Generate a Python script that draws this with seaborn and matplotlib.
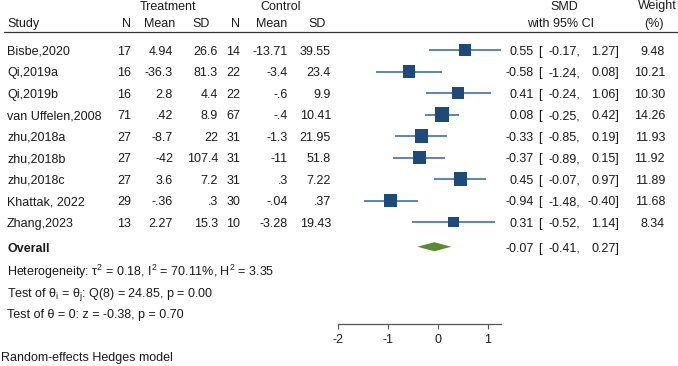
import matplotlib
matplotlib.use("Agg")
import matplotlib.pyplot as plt
import matplotlib.transforms as mtransforms
import seaborn as sns
import pandas as pd
import numpy as np

# ---------------- data ----------------
studies = ["Bisbe,2020", "Qi,2019a", "Qi,2019b", "van Uffelen,2008", "zhu,2018a",
           "zhu,2018b", "zhu,2018c", "Khattak, 2022", "Zhang,2023"]
trt_n = ["17", "16", "16", "71", "27", "27", "27", "29", "13"]
trt_mean = ["4.94", "-36.3", "2.8", ".42", "-8.7", "-42", "3.6", "-.36", "2.27"]
trt_sd = ["26.6", "81.3", "4.4", "8.9", "22", "107.4", "7.2", ".3", "15.3"]
ctl_n = ["14", "22", "22", "67", "31", "31", "31", "30", "10"]
ctl_mean = ["-13.71", "-3.4", "-.6", "-.4", "-1.3", "-11", ".3", "-.04", "-3.28"]
ctl_sd = ["39.55", "23.4", "9.9", "10.41", "21.95", "51.8", "7.22", ".37", "19.43"]
smd = [0.55, -0.58, 0.41, 0.08, -0.33, -0.37, 0.45, -0.94, 0.31]
lower = [-0.17, -1.24, -0.24, -0.25, -0.85, -0.89, -0.07, -1.48, -0.52]
upper = [1.27, 0.08, 1.06, 0.42, 0.19, 0.15, 0.97, -0.40, 1.14]
weight = [9.48, 10.21, 10.30, 14.26, 11.93, 11.92, 11.89, 11.68, 8.34]
overall = [-0.07, -0.41, 0.27]  # estimate, lower, upper
xticks = [-2, -1, 0, 1]

het_text = r"Heterogeneity: τ$^\mathregular{2}$ = 0.18, I$^\mathregular{2}$ = 70.11%, H$^\mathregular{2}$ = 3.35"
q_text = r"Test of θ$_\mathregular{i}$ = θ$_\mathregular{j}$: Q(8) = 24.85, p = 0.00"
z_text = "Test of θ = 0: z = -0.38, p = 0.70"
model_text = "Random-effects Hedges model"

# ---------------- style ----------------
sns.set_style("white")
plt.rcParams["font.family"] = ["Liberation Sans", "DejaVu Sans"]
plt.rcParams["mathtext.fontset"] = "custom"
plt.rcParams["mathtext.rm"] = "Liberation Sans"
plt.rcParams["mathtext.it"] = "Liberation Sans:italic"
plt.rcParams["mathtext.bf"] = "Liberation Sans:bold"
plt.rcParams["axes.unicode_minus"] = False

FS = 9.0
TXT = "#1a1a1a"
LINE_C = "#5d84ad"
SQ_C = "#1d4a78"
DIA_C = "#5b8a32"

W, H = 678, 366
fig = plt.figure(figsize=(W / 100, H / 100), dpi=100)
ax = fig.add_axes([0, 0, 1, 1])

# x: SMD units; 0 at 437.8px, 49.8 px per unit
X0, XS = 437.8, 49.8
ax.set_xlim(-X0 / XS, (W - X0) / XS)
# y: row index; row 0 at 50px, 21.5 px per row
Y0, YS = 50.0, 21.5
def py(p):
    return (p - Y0) / YS
ax.set_ylim(py(H), py(0))

n = len(studies)
rows = list(range(n))
y_overall = 9.15

df = pd.DataFrame({"study": studies, "smd": smd, "lo": lower, "hi": upper,
                   "w": weight, "row": rows})

# CI lines
ax.hlines(df["row"], df["lo"], df["hi"], color=LINE_C, lw=1.4, zorder=2)
# squares (area proportional to weight)
k = 7.49
sns.scatterplot(data=df, x="smd", y="row", size="w",
                sizes=(k * min(weight), k * max(weight)),
                size_norm=(min(weight), max(weight)),
                marker="s", color=SQ_C, edgecolor=SQ_C, linewidth=0,
                legend=False, ax=ax, zorder=3)
# overall diamond
est, olo, ohi = overall
hh = 0.21
ax.fill([olo, est, ohi, est], [y_overall, y_overall - hh, y_overall, y_overall + hh],
        color=DIA_C, lw=0, zorder=3)

# axis
for s in ["left", "right", "top"]:
    ax.spines[s].set_visible(False)
ax.spines["bottom"].set_position(("data", py(324)))
ax.spines["bottom"].set_bounds(min(xticks), max(upper))
ax.spines["bottom"].set_color("#555555")
ax.spines["bottom"].set_linewidth(0.9)
ax.set_xticks(xticks)
ax.set_xticklabels([str(t) for t in xticks])
ax.tick_params(axis="x", direction="out", length=3.5, width=0.8, color="#555555",
               labelsize=FS, labelcolor=TXT, pad=4, bottom=True)
ax.set_yticks([])
ax.set_xlabel("")
ax.set_ylabel("")

# text helpers: x in figure pixels, y = baseline in data rows
tr = mtransforms.blended_transform_factory(fig.transFigure, ax.transData)
BL = 4.8 / YS  # baseline offset below row centre
def put(xp, y, s, ha="left", **kw):
    ax.text(xp / W, y, s, transform=tr, ha=ha, va="baseline", fontsize=FS,
            color=TXT, **kw)

# header
put(168, py(9.5), "Treatment", ha="center")
put(281, py(9.5), "Control", ha="center")
put(564, py(9.5), "SMD", ha="center")
put(657, py(9.5), "Weight", ha="center")
put(7, py(26.6), "Study")
put(126, py(26.6), "N", ha="center")
put(160, py(26.6), "Mean", ha="center")
put(201, py(26.6), "SD", ha="center")
put(235, py(26.6), "N", ha="center")
put(272, py(26.6), "Mean", ha="center")
put(317, py(26.6), "SD", ha="center")
put(561, py(26.6), "with 95% CI", ha="center")
put(654, py(26.6), "(%)", ha="center")
ax.plot([4 / W, 1], [py(32.3), py(32.3)], transform=tr, color="#333333", lw=0.9,
        clip_on=False)

# table rows
for i in rows:
    yb = i + BL
    put(7, yb, studies[i])
    put(131, yb, trt_n[i], ha="right")
    put(173, yb, trt_mean[i], ha="right")
    put(218, yb, trt_sd[i], ha="right")
    put(240, yb, ctl_n[i], ha="right")
    put(288, yb, ctl_mean[i], ha="right")
    put(331, yb, ctl_sd[i], ha="right")
    put(534, yb, f"{smd[i]:.2f}", ha="right")
    put(538, yb, "[")
    put(580, yb, f"{lower[i]:.2f},", ha="right")
    put(619, yb, f"{upper[i]:.2f}]", ha="right")
    put(665, yb, f"{weight[i]:.2f}", ha="right")

yb = y_overall + BL
put(7, yb, "Overall", fontweight="bold")
put(534, yb, f"{est:.2f}", ha="right")
put(538, yb, "[")
put(580, yb, f"{olo:.2f},", ha="right")
put(619, yb, f"{ohi:.2f}]", ha="right")

put(7, py(276), het_text)
put(7, py(296.7), q_text)
put(7, py(317.7), z_text)
put(1, py(361), model_text)

fig.savefig("out.png", dpi=100)
